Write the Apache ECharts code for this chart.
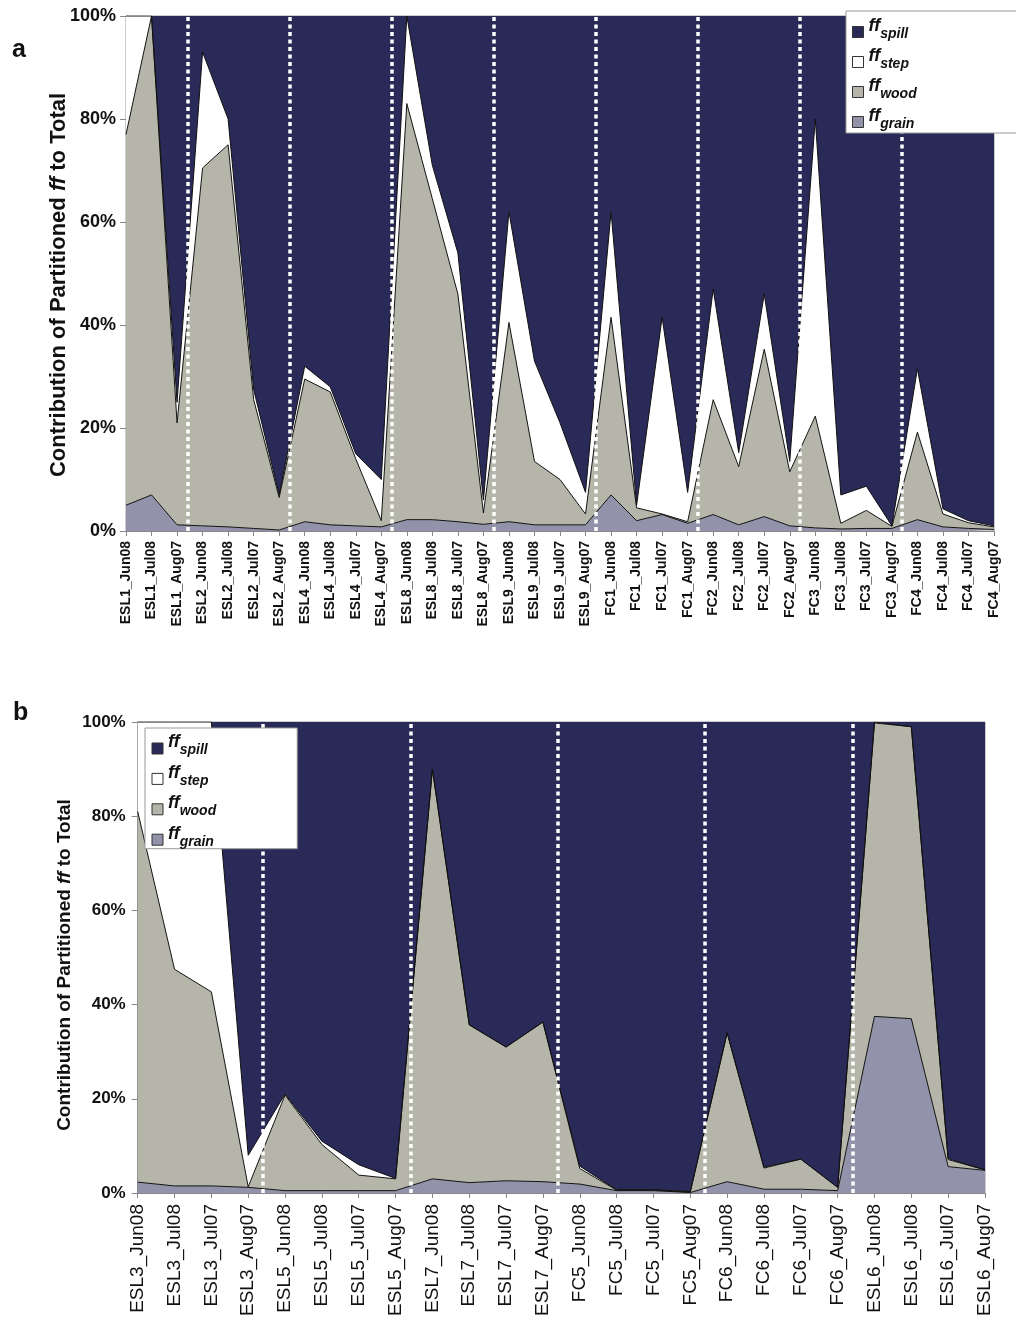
<!DOCTYPE html>
<html>
<head>
<meta charset="utf-8">
<title>Partitioned ff contributions</title>
<script src="https://cdn.jsdelivr.net/npm/echarts@6/dist/echarts.min.js"></script>
<style>
  html, body { margin: 0; padding: 0; background: #fff; }
  #chart { width: 1016px; height: 1320px; }
</style>
</head>
<body>
<div id="chart"></div>
<script>
// Panel a: sites and sampling campaigns
const catsA = ['ESL1_Jun08','ESL1_Jul08','ESL1_Aug07','ESL2_Jun08','ESL2_Jul08','ESL2_Jul07','ESL2_Aug07',
  'ESL4_Jun08','ESL4_Jul08','ESL4_Jul07','ESL4_Aug07','ESL8_Jun08','ESL8_Jul08','ESL8_Jul07','ESL8_Aug07',
  'ESL9_Jun08','ESL9_Jul08','ESL9_Jul07','ESL9_Aug07','FC1_Jun08','FC1_Jul08','FC1_Jul07','FC1_Aug07',
  'FC2_Jun08','FC2_Jul08','FC2_Jul07','FC2_Aug07','FC3_Jun08','FC3_Jul08','FC3_Jul07','FC3_Aug07',
  'FC4_Jun08','FC4_Jul08','FC4_Jul07','FC4_Aug07'];
const grainA = [5,7,1.2,1,0.8,0.5,0.2,1.8,1.2,1,0.8,2.2,2.2,1.8,1.3,1.8,1.2,1.2,1.2,7,2,3.2,1.5,3.2,1.2,2.8,1,0.6,0.4,0.5,0.5,2.2,0.8,0.5,0.3];
const woodA  = [72,93,19.8,69.5,74.2,25,6.3,27.7,25.8,13,1.2,80.8,62.3,44.2,2.2,38.7,12.3,8.8,2.1,34.5,2.5,0.1,0.3,22.3,11.3,32.5,10.5,21.7,1.1,3.5,0.4,17,2.5,1.1,0.5];
const stepA  = [23,0,4,22.5,5,2,0.5,2.5,1,1,8,17,6.5,8,2.5,21.5,19.5,11,4.2,20.5,0.5,38.2,5.7,21.5,2.7,10.7,2,57.7,5.5,4.7,0.1,12.3,1,0.4,0.2];
const spillA = [0,0,75,7,20,72.5,93,68,72,85,90,0,29,46,94,38,67,79,92.5,38,95,58.5,92.5,53,84.8,54,86.5,20,93,91.3,99,68.5,95.7,98,99];

// Panel b
const catsB = ['ESL3_Jun08','ESL3_Jul08','ESL3_Jul07','ESL3_Aug07','ESL5_Jun08','ESL5_Jul08','ESL5_Jul07','ESL5_Aug07',
  'ESL7_Jun08','ESL7_Jul08','ESL7_Jul07','ESL7_Aug07','FC5_Jun08','FC5_Jul08','FC5_Jul07','FC5_Aug07',
  'FC6_Jun08','FC6_Jul08','FC6_Jul07','FC6_Aug07','ESL6_Jun08','ESL6_Jul08','ESL6_Jul07','ESL6_Aug07'];
const grainB = [2.3,1.5,1.5,1.2,0.5,0.5,0.5,0.5,3,2.2,2.6,2.4,1.9,0.5,0.5,0.1,2.4,0.8,0.8,0.5,37.5,37,5.6,4.8];
const woodB  = [78.7,46,41.2,0.1,20.3,9.8,3.3,2.5,87,33.5,28.4,33.9,3.3,0.1,0.1,0.1,31.6,4.5,6.4,0.7,62.3,62,1.5,0.1];
const stepB  = [19,52.5,57.3,6.7,0.2,0.7,2.2,0.1,0,0,0,0,0.5,0.1,0.1,0.1,0,0.2,0,0,0.2,0,0.2,0];
const spillB = [0,0,0,92,79,89,94,96.9,10,64.3,69,63.7,94.3,99.3,99.3,99.7,66,94.5,92.8,98.8,0,1,92.7,95.1];

const yTicks = [0, 20, 40, 60, 80, 100];

const FONT = '"Liberation Sans", Arial, Helvetica, sans-serif';
const COLORS = { spill: '#2a2a58', step: '#ffffff', wood: '#b5b5aa', grain: '#9293ab' };
const LEGEND_ORDER = ['spill', 'step', 'wood', 'grain'];

// dotted separators sit just after the last sample of each site
function siteBreaks(cats) {
  const out = [];
  for (let i = 1; i < cats.length; i++) {
    if (cats[i].split('_')[0] !== cats[i - 1].split('_')[0]) out.push(i - 1 + 0.4);
  }
  return out;
}

function areaSeries(name, values, gi) {
  return {
    name, type: 'line', stack: 'total' + gi,
    xAxisIndex: gi * 2, yAxisIndex: gi,
    data: values, symbol: 'none', showSymbol: false,
    lineStyle: { color: '#111', width: name === 'spill' ? 0 : 1 },
    areaStyle: { color: COLORS[name], opacity: 1 },
    itemStyle: { color: COLORS[name] },
    emphasis: { disabled: true }, silent: true
  };
}

function breakSeries(cats, gi) {
  return {
    type: 'line', xAxisIndex: gi * 2 + 1, yAxisIndex: gi, data: [], z: 5, silent: true,
    markLine: {
      symbol: 'none', silent: true, label: { show: false },
      lineStyle: { color: '#ffffff', width: 3.5, type: [4, 3.5], opacity: 1 },
      emphasis: { disabled: true },
      data: siteBreaks(cats).map(x => ({ xAxis: x }))
    }
  };
}

function legend(left, top, pad, gap) {
  return {
    orient: 'vertical', left, top, padding: pad, itemGap: gap, z: 20,
    itemWidth: 11, itemHeight: 11, icon: 'rect',
    backgroundColor: '#fff', borderColor: '#999', borderWidth: 1, borderRadius: 0,
    selectedMode: false,
    data: LEGEND_ORDER.map(n => ({ name: n, itemStyle: { color: COLORS[n], borderColor: '#333', borderWidth: 1 } })),
    formatter: n => '{f|ff}{s|' + n + '}',
    textStyle: {
      rich: {
        f: { fontFamily: FONT, fontSize: 18, fontWeight: 'bold', fontStyle: 'italic', color: '#111', lineHeight: 18, padding: [0, 0, 6, 0], verticalAlign: 'bottom' },
        s: { fontFamily: FONT, fontSize: 14, fontWeight: 'bold', fontStyle: 'italic', color: '#111', lineHeight: 14, verticalAlign: 'bottom' }
      }
    }
  };
}

function yAxis(gi, labelSize, labelMargin, nameSize, nameGap, namePad) {
  return {
    gridIndex: gi, type: 'value', min: yTicks[0], max: yTicks[yTicks.length - 1], interval: yTicks[1] - yTicks[0],
    axisLine: { show: true, lineStyle: { color: '#888', width: 1 } },
    axisTick: { show: true, length: 6, lineStyle: { color: '#888' } },
    splitLine: { show: false },
    axisLabel: { formatter: '{value}%', fontFamily: FONT, fontSize: labelSize, fontWeight: 'bold', color: '#111', margin: labelMargin },
    name: 'Contribution of Partitioned {i|ff} to Total',
    nameLocation: 'middle', nameRotate: 90, nameGap, nameMoveOverlap: false,
    nameTextStyle: {
      fontFamily: FONT, fontSize: nameSize, fontWeight: 'bold', color: '#111', padding: namePad,
      rich: { i: { fontFamily: FONT, fontSize: nameSize, fontWeight: 'bold', fontStyle: 'italic', color: '#111' } }
    }
  };
}

function catAxis(gi, cats, size, weight, margin) {
  return {
    gridIndex: gi, type: 'category', data: cats, boundaryGap: false,
    axisLine: { show: true, lineStyle: { color: '#888', width: 1 } },
    axisTick: { show: true, length: 5, interval: 0, lineStyle: { color: '#888' } },
    axisLabel: { interval: 0, rotate: 90, fontFamily: FONT, fontSize: size, fontWeight: weight, color: '#111', margin }
  };
}

function posAxis(gi, cats) {
  return { gridIndex: gi, type: 'value', min: 0, max: cats.length - 1, show: false };
}

const option = {
  animation: false,
  backgroundColor: '#ffffff',
  title: [
    { text: 'a', left: 7, top: 33, textStyle: { fontFamily: FONT, fontSize: 25, fontWeight: 'bold', color: '#111' } },
    { text: 'b', left: 8, top: 696, textStyle: { fontFamily: FONT, fontSize: 25, fontWeight: 'bold', color: '#111' } }
  ],
  grid: [
    { left: 126, top: 16, width: 868, height: 515, show: true, borderColor: '#999', borderWidth: 1, backgroundColor: 'transparent' },
    { left: 137.7, top: 722, width: 847.3, height: 471, show: true, borderColor: '#999', borderWidth: 1, backgroundColor: 'transparent' }
  ],
  legend: [
    legend(846, 11, [6, 100, 2, 6], 6),
    legend(145, 728, [5.5, 81, 0, 6.5], 6.4)
  ],
  xAxis: [
    catAxis(0, catsA, 14, 'bold', 10),
    posAxis(0, catsA),
    catAxis(1, catsB, 19, 'normal', 11),
    posAxis(1, catsB)
  ],
  yAxis: [
    yAxis(0, 18, 10, 22, 56, [0, 23, 0, 0]),
    yAxis(1, 17, 12, 19, 63, [0, 15, 0, 0])
  ],
  series: [
    areaSeries('grain', grainA, 0),
    areaSeries('wood', woodA, 0),
    areaSeries('step', stepA, 0),
    areaSeries('spill', spillA, 0),
    breakSeries(catsA, 0),
    areaSeries('grain', grainB, 1),
    areaSeries('wood', woodB, 1),
    areaSeries('step', stepB, 1),
    areaSeries('spill', spillB, 1),
    breakSeries(catsB, 1)
  ]
};

const chart = echarts.init(document.getElementById('chart'), null, { renderer: 'canvas' });
chart.setOption(option);
</script>
</body>
</html>
